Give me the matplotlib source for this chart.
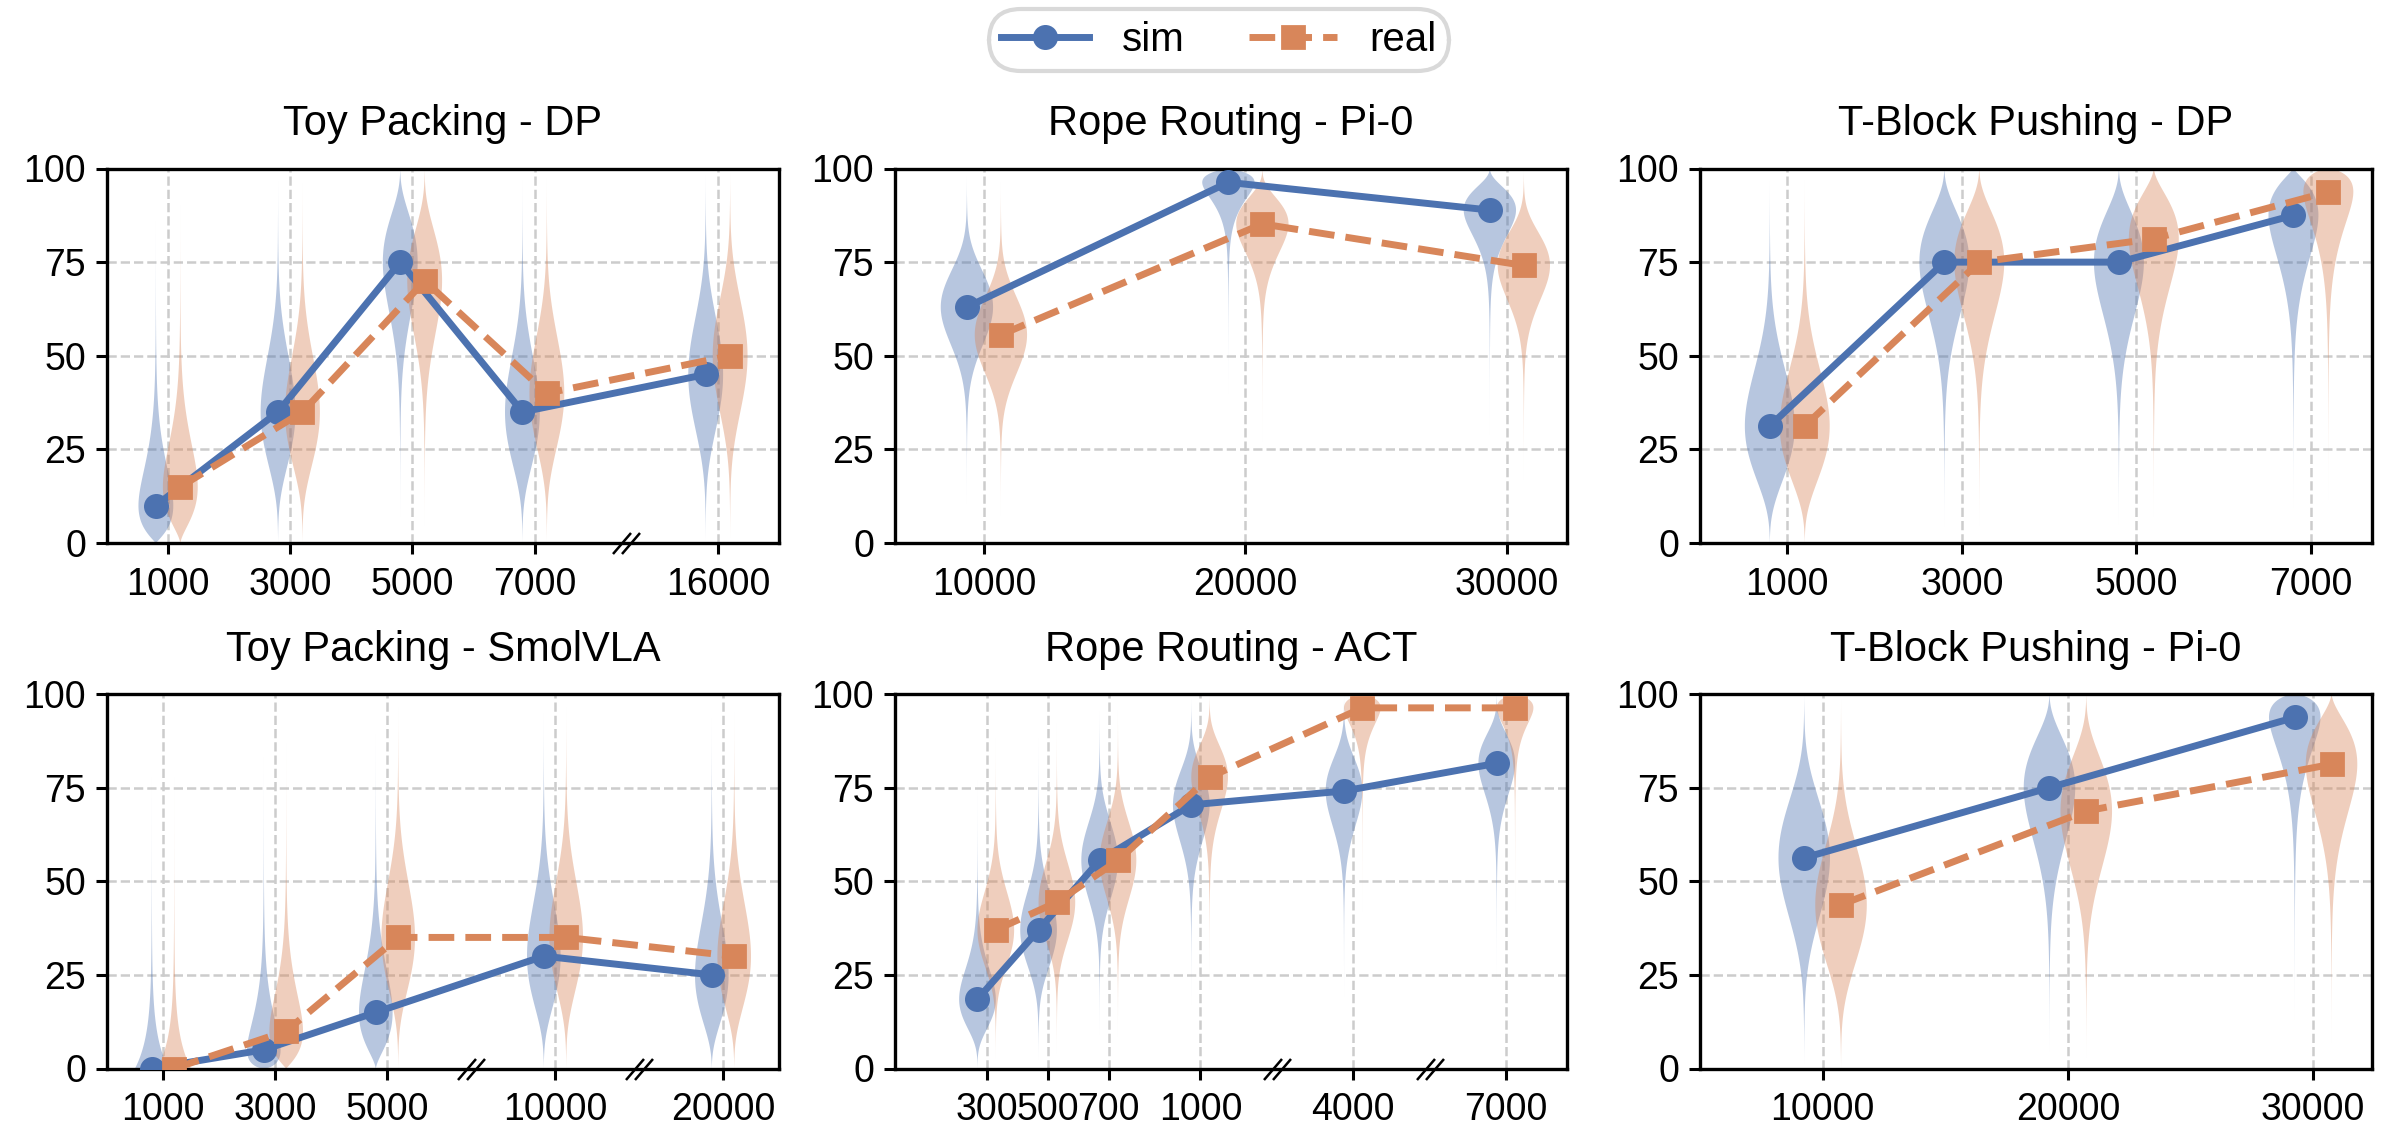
import matplotlib
matplotlib.use("Agg")
import matplotlib.pyplot as plt
import matplotlib.transforms as mtransforms
from matplotlib.path import Path
import numpy as np

plt.rcParams.update({"font.family": ["Liberation Sans", "DejaVu Sans"], "font.size": 13.5,
                     "axes.linewidth": 1.2, "xtick.major.width": 1.1, "ytick.major.width": 1.1,
                     "xtick.major.size": 4, "ytick.major.size": 4, "xtick.major.pad": 4.5})
SIM_C, REAL_C = "#4c72b0", "#d8865a"

# ---- data (success rate, %) ----
toy_dp_x = ["1000", "3000", "5000", "7000", "16000"]
toy_dp_sim = [10, 35, 75, 35, 45]
toy_dp_real = [15, 35, 70, 40, 50]

rope_pi0_x = ["10000", "20000", "30000"]
rope_pi0_sim = [63.0, 96.3, 88.9]
rope_pi0_real = [55.6, 85.2, 74.1]

tblock_dp_x = ["1000", "3000", "5000", "7000"]
tblock_dp_sim = [31.25, 75.0, 75.0, 87.5]
tblock_dp_real = [31.25, 75.0, 81.25, 93.75]

toy_smol_x = ["1000", "3000", "5000", "10000", "20000"]
toy_smol_sim = [0, 5, 15, 30, 25]
toy_smol_real = [0, 10, 35, 35, 30]

rope_act_x = ["300", "500", "700", "1000", "4000", "7000"]
rope_act_sim = [18.5, 37.0, 55.6, 70.4, 74.1, 81.5]
rope_act_real = [37.0, 44.4, 55.6, 77.8, 96.3, 96.3]

tblock_pi0_x = ["10000", "20000", "30000"]
tblock_pi0_sim = [56.25, 75.0, 93.75]
tblock_pi0_real = [43.75, 68.75, 81.25]

# spread of the violins (pseudo trial count of the posterior)
spread_n = {"Toy Packing - DP": 12, "Rope Routing - Pi-0": 25, "T-Block Pushing - DP": 11,
            "Toy Packing - SmolVLA": 12, "Rope Routing - ACT": 25, "T-Block Pushing - Pi-0": 11}

# ---- layout: (title, labels, sim, real, positions, breaks, xlim, offset, width)
panels = [
    ("Toy Packing - DP", toy_dp_x, toy_dp_sim, toy_dp_real,
     [0, 1, 2, 3, 4.5], [3.75], (-0.5, 5.0), 0.1, 0.285),
    ("Rope Routing - Pi-0", rope_pi0_x, rope_pi0_sim, rope_pi0_real,
     [0, 1, 2], [], (-0.34, 2.23), 0.065, 0.2),
    ("T-Block Pushing - DP", tblock_dp_x, tblock_dp_sim, tblock_dp_real,
     [0, 1, 2, 3], [], (-0.5, 3.35), 0.1, 0.286),
    ("Toy Packing - SmolVLA", toy_smol_x, toy_smol_sim, toy_smol_real,
     [0, 1, 2, 3.5, 5], [2.75, 4.25], (-0.5, 5.5), 0.1, 0.3),
    ("Rope Routing - ACT", rope_act_x, rope_act_sim, rope_act_real,
     [0, 1, 2, 3.5, 6, 8.5], [4.75, 7.25], (-1.5, 9.5), 0.15, 0.6),
    ("T-Block Pushing - Pi-0", tblock_pi0_x, tblock_pi0_sim, tblock_pi0_real,
     [0, 1, 2], [], (-0.5, 2.24), 0.075, 0.21),
]

W, H, DPI = 2404, 1136, 200
COL_L = [107, 895, 1700]
ROW_TOP = [168.5, 694]
AX_W, AX_H = 672, 374.5

BREAK = Path([(-13.5, -10.5), (4.5, 10.5), (-4.5, -10.5), (13.5, 10.5)],
             [Path.MOVETO, Path.LINETO, Path.MOVETO, Path.LINETO])


def violin_stats(vals, n):
    out = []
    y = np.linspace(0, 100, 501)
    q = y / 100.0
    for p in vals:
        dens = 0
        # main body plus a faint wider component for the long thin tails
        for k, wgt in [(n, 1.0), (n / 3.0, 0.07)]:
            a, b = p / 100.0 * k, (1 - p / 100.0) * k
            d = q ** a * (1 - q) ** b
            dens = dens + wgt * d / d.max()
        out.append(dict(coords=y, vals=dens, mean=p, median=p, min=0, max=100))
    return out


def panel(ax, title, labels, sim, real, pos, breaks, xlim, off, width):
    pos = np.asarray(pos, float)
    n = spread_n[title]
    for vals, sgn, c in [(sim, -1, SIM_C), (real, 1, REAL_C)]:
        vp = ax.violin(violin_stats(vals, n), positions=pos + sgn * off, widths=width,
                       showmeans=False, showextrema=False, showmedians=False)
        for b in vp["bodies"]:
            b.set_facecolor(c); b.set_edgecolor("none"); b.set_alpha(0.4); b.set_zorder(1)
    ax.plot(pos - off, sim, "-o", color=SIM_C, lw=2.5, ms=8, zorder=3, label="sim")
    ax.plot(pos + off, real, "--s", color=REAL_C, lw=2.5, ms=8, zorder=3, label="real")
    ax.set_xticks(pos); ax.set_xticklabels(labels)
    ax.set_yticks([0, 25, 50, 75, 100])
    ax.set_ylim(0, 100); ax.set_xlim(*xlim)
    ax.grid(True, ls="--", color="#cccccc", lw=0.9)
    ax.set_axisbelow(True)
    ax.set_title(title, fontsize=15, pad=12)
    trans = mtransforms.blended_transform_factory(ax.transData, ax.transAxes)
    for bx in breaks:
        ax.plot([bx], [0], transform=trans, marker=BREAK, ms=27 * 72 / DPI, mfc="none",
                mec="k", mew=0.9, ls="none", clip_on=False, zorder=6)


fig = plt.figure(figsize=(W / DPI, H / DPI), dpi=DPI)
for i, spec in enumerate(panels):
    r, c = divmod(i, 3)
    rect = [COL_L[c] / W, 1 - (ROW_TOP[r] + AX_H) / H, AX_W / W, AX_H / H]
    ax = fig.add_axes(rect)
    panel(ax, *spec)
    if i == 0:
        handles, lbls = ax.get_legend_handles_labels()

leg = fig.legend(handles, lbls, loc="upper center", bbox_to_anchor=(0.507, 1 - 9 / H), ncol=2,
                 fontsize=14.5, frameon=True, fancybox=True, columnspacing=1.6,
                 handlelength=2.2, borderpad=0.3, borderaxespad=0)
frame = leg.get_frame()
frame.set_edgecolor("#d0d0d0")
frame.set_linewidth(1.5)
frame.set_boxstyle("round,pad=0,rounding_size=0.8")

fig.savefig("out.png", dpi=DPI)
